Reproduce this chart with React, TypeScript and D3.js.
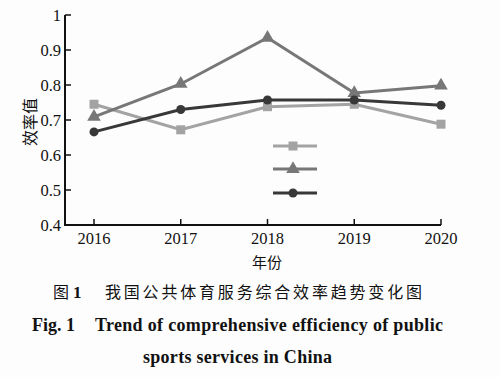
import React from "react";
import * as d3 from "d3";

const years = [2016, 2017, 2018, 2019, 2020];
const seriesA = [0.745, 0.672, 0.738, 0.745, 0.688]; // light gray, square
const seriesB = [0.709, 0.803, 0.935, 0.777, 0.798]; // mid gray, triangle
const seriesC = [0.666, 0.73, 0.757, 0.757, 0.742]; // dark, circle
const yTicks = [0.4, 0.5, 0.6, 0.7, 0.8, 0.9, 1];
const yTickLabels = ["0.4", "0.5", "0.6", "0.7", "0.8", "0.9", "1"];
const legendLabels = ["", "", ""];

const W = 500;
const H = 377;

export default function App() {
  const x = d3.scalePoint<number>().domain(years).range([94, 441]);
  const y = d3.scaleLinear().domain([0.4, 1]).range([225, 15]);
  const line = d3
    .line<number>()
    .x((_, i) => x(years[i])!)
    .y((d) => y(d));

  const series = [
    { data: seriesA, color: "#a3a3a3", shape: "square" },
    { data: seriesB, color: "#777777", shape: "triangle" },
    { data: seriesC, color: "#383838", shape: "circle" },
  ];

  const marker = (shape: string, cx: number, cy: number, color: string, key: string) => {
    if (shape === "square")
      return <rect key={key} x={cx - 4.5} y={cy - 4.5} width={9} height={9} fill={color} />;
    if (shape === "triangle") {
      const sym = d3.symbol().type(d3.symbolTriangle).size(80)();
      return <path key={key} d={sym!} transform={`translate(${cx},${cy})`} fill={color} />;
    }
    return <circle key={key} cx={cx} cy={cy} r={4.5} fill={color} />;
  };

  const legendY = [146, 169, 193];

  return (
    <svg
      width={W}
      height={H}
      style={{ position: "absolute", left: 0, top: 0, background: "#fff" }}
      fontFamily="'Liberation Serif', serif"
    >
      <rect x={0} y={0} width={W} height={H} fill="#fdfdfd" />
      {/* axes */}
      <line x1={65} y1={15} x2={65} y2={226} stroke="#111" strokeWidth={2} />
      <line x1={64} y1={225} x2={441} y2={225} stroke="#111" strokeWidth={2} />
      {yTicks.map((t, i) => (
        <g key={"yt" + i}>
          <line x1={65} x2={71} y1={y(t)} y2={y(t)} stroke="#111" strokeWidth={1.5} />
          <text x={61} y={y(t) + 5.5} textAnchor="end" fontSize={16.5} fill="#111">
            {yTickLabels[i]}
          </text>
        </g>
      ))}
      {years.map((yr) => (
        <g key={"xt" + yr}>
          <line x1={x(yr)} x2={x(yr)} y1={225} y2={219} stroke="#111" strokeWidth={1.5} />
          <text x={x(yr)} y={244} textAnchor="middle" fontSize={16.5} fill="#111">
            {yr}
          </text>
        </g>
      ))}
      <text
        x={267}
        y={268}
        textAnchor="middle"
        fontSize={15}
        fontFamily="'Noto Sans CJK SC', sans-serif"
        fill="#111"
      >
        年份
      </text>
      <text
        transform="translate(36,122) rotate(-90)"
        textAnchor="middle"
        fontSize={16}
        fontFamily="'Noto Sans CJK SC', sans-serif"
        fill="#111"
      >
        效率值
      </text>
      {/* lines */}
      {series.map((s, si) => (
        <g key={"s" + si}>
          <path d={line(s.data)!} fill="none" stroke={s.color} strokeWidth={3} />
          {s.data.map((v, i) => marker(s.shape, x(years[i])!, y(v), s.color, `m${si}-${i}`))}
        </g>
      ))}
      {/* legend */}
      {series.map((s, si) => (
        <g key={"lg" + si}>
          <line x1={273} x2={317} y1={legendY[si]} y2={legendY[si]} stroke={s.color} strokeWidth={3} />
          {marker(s.shape, 293, legendY[si], s.color, "lm" + si)}
          <text x={322} y={legendY[si] + 5} fontSize={14}>
            {legendLabels[si]}
          </text>
        </g>
      ))}
      {/* captions */}
      <g fontFamily="'Noto Sans CJK SC', sans-serif" fill="#111" fontSize={16}>
        <text x={53} y={298}>图</text>
        <text x={73} y={298} fontFamily="'Liberation Serif', serif" fontWeight="bold" fontSize={17}>1</text>
        <text x={105} y={298} textLength={317} lengthAdjust="spacing">
          我国公共体育服务综合效率趋势变化图
        </text>
      </g>
      <g fontFamily="'Liberation Serif', serif" fontWeight="bold" fill="#111" fontSize={18}>
        <text x={32} y={331}>Fig. 1</text>
        <text x={95} y={331} textLength={348} lengthAdjust="spacing">
          Trend of comprehensive efficiency of public
        </text>
        <text x={143} y={363} textLength={189} lengthAdjust="spacing">
          sports services in China
        </text>
      </g>
    </svg>
  );
}
